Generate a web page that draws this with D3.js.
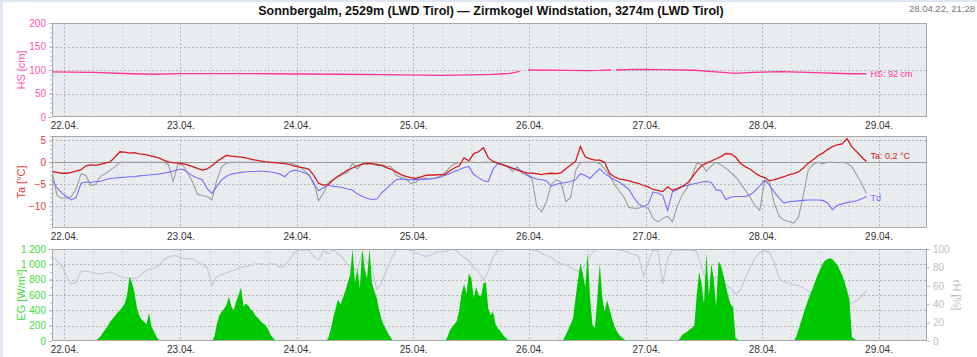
<!DOCTYPE html>
<html><head><meta charset="utf-8">
<script src="https://cdn.jsdelivr.net/npm/d3@7"></script>
<style>
html,body{margin:0;padding:0;background:#fff;}
svg{display:block;font-family:"Liberation Sans",Arial,sans-serif;}
</style></head><body>
<svg id="c" width="977" height="357"></svg>
<script>
// ---------------- DATA ----------------
const title = "Sonnbergalm, 2529m (LWD Tirol) \u2014 Zirmkogel Windstation, 3274m (LWD Tirol)";
const stamp = "28.04.22, 21:28";
const dayTicks = ["2022-04-22","2022-04-23","2022-04-24","2022-04-25","2022-04-26","2022-04-27","2022-04-28","2022-04-29"];
const hsTicks = [0,50,100,150,200];
const taTicks = [-10,-5,0,5];
const egTicks = [0,200,400,600,800,1000,1200];
const egTickLabels = ["0","200","400","600","800","1 000","1 200"];
const rhTicks = [0,20,40,60,80,100];

// hourly series, first value at 21.04. 21:30, step 1 h
const seriesStart = "2022-04-21T21:30";
const ta = [
 -2.1,-2.3,-2.5, -2.5,-2.3,-2.0,-1.7,-0.8,-0.6,-0.7,-0.5,-0.2,0.1,1.2,2.4,2.3,2.1,2.2,1.9,1.8,1.6,1.3,1.0,0.5,0.1,-0.1,-0.2,
 -0.3,-0.6,-1.0,-1.4,-1.8,-1.5,-0.8,0.2,0.9,1.6,1.4,1.3,1.2,1.0,0.7,0.5,0.3,0.1,0.0,-0.1,-0.2,-0.3,-0.5,-0.9,
 -1.1,-1.3,-1.6,-3.0,-4.8,-5.2,-5.1,-4.0,-3.2,-2.5,-1.8,-1.3,-0.8,-0.4,-0.2,-0.3,-0.5,-0.7,-1.2,-1.6,-2.2,-2.8,-3.2,-3.5,
 -3.7,-3.4,-3.0,-2.9,-2.9,-2.8,-2.8,-2.0,-1.3,-0.8,1.0,0.3,2.0,2.4,3.3,1.0,0.2,-0.2,-0.6,-1.0,-1.4,-1.8,-2.2,-2.4,
 -2.5,-2.6,-2.8,-2.6,-2.5,-2.6,-2.4,-1.5,-0.6,0.2,3.6,1.2,0.8,0.5,0.5,0.0,-2.5,-3.3,-3.8,-4.0,-4.2,-4.6,-4.8,-5.3,
 -5.6,-6.2,-6.4,-6.7,-5.6,-6.4,-6.0,-5.5,-4.8,-3.5,-2.0,-0.8,-0.2,0.3,0.8,1.3,2.0,1.9,1.2,-0.2,-1.0,-1.6,-2.4,-3.1,
 -3.5,-4.2,-4.0,-3.6,-3.3,-2.9,-2.6,-2.2,-1.3,-0.2,0.6,1.5,2.1,2.9,3.6,4.0,4.2,5.4,3.5,2.4,1.2,0.2
];
const td = [
 -3.9,-5.8,-7.0, -7.8,-8.6,-8.0,-4.8,-4.5,-4.6,-4.4,-4.4,-4.0,-3.7,-3.6,-3.5,-3.4,-3.3,-3.3,-3.1,-3.0,-2.9,-2.8,-2.7,-2.5,-2.3,-2.0,-1.7,
 -1.6,-2.3,-3.1,-3.6,-4.0,-6.0,-7.1,-5.5,-4.0,-3.2,-2.7,-2.5,-2.3,-2.2,-2.1,-2.1,-2.0,-2.1,-2.2,-2.4,-2.7,-3.3,-2.2,-1.8,
 -2.0,-2.4,-2.8,-5.0,-6.5,-5.8,-5.2,-5.5,-5.6,-5.8,-6.1,-6.4,-7.2,-7.8,-8.2,-8.5,-8.4,-7.0,-6.0,-5.0,-4.0,-3.8,-4.0,-4.0,
 -3.9,-4.0,-3.9,-3.8,-3.7,-3.4,-3.0,-2.6,-2.1,-1.7,-1.2,-1.0,-2.8,-3.5,-4.2,-4.4,-1.5,-0.3,-0.5,-0.9,-1.3,-1.6,-2.0,-2.8,
 -3.4,-3.8,-4.0,-4.2,-5.5,-5.0,-4.8,-4.6,-4.4,-4.0,-2.6,-3.0,-3.7,-2.5,-1.5,-2.6,-3.3,-4.0,-4.5,-5.3,-6.2,-8.0,-9.5,-10.2,
 -9.5,-6.8,-7.0,-7.6,-11.0,-6.7,-6.2,-5.6,-5.3,-5.0,-4.8,-4.5,-4.4,-4.6,-6.3,-6.5,-8.5,-8.0,-7.8,-7.8,-7.8,-7.4,-6.6,-5.4,
 -4.1,-5.2,-6.8,-8.2,-9.3,-9.0,-8.9,-8.8,-8.7,-8.6,-8.6,-8.6,-8.7,-9.3,-10.8,-9.8,-9.5,-9.2,-9.0,-8.8,-8.3,-7.8
];
const tSurf = [
 -1.8,-7.5,-8.2, -8.2,-7.8,-6.0,-2.6,-3.0,-5.3,-5.0,-3.2,-2.6,-1.8,-1.0,0,0,0,0,0,0,0,0,0,0,-0.5,-4.4,-0.3,
 -0.6,-2.5,-4.5,-7.3,-7.6,-7.8,-8.6,-4.0,-1.0,-0.2,0,0,0,0,0,0,0,0,0,0,0,0,0,-0.5,
 -1.0,-1.8,-3.0,-4.5,-8.8,-7.0,-4.6,-4.0,-3.3,-2.8,-2.3,-0.2,-1.5,-0.3,-0.5,-0.4,-0.8,-0.6,-0.9,-1.0,-3.0,-3.4,-3.7,-4.8,
 -4.6,-3.7,-3.6,-3.7,-3.6,-3.2,-2.5,-1.2,-0.3,-0.1,0,0,0,-0.1,0,0,0,-0.2,-0.5,-1.0,-2.1,-1.0,-2.5,-3.0,
 -3.7,-10.1,-11.3,-9.0,-5.0,-4.0,-4.5,-9.0,-8.0,-2.0,0,0,0,0,-0.3,-1.5,-3.0,-5.0,-6.5,-8.0,-10.3,-10.5,-10.5,-10.0,
 -10.5,-12.8,-13.6,-12.8,-12.3,-13.6,-10.0,-7.5,-5.9,-3.3,-0.2,-0.5,-2.0,-0.8,0,-0.6,-1.4,-2.3,-3.3,-4.8,-6.3,-8.0,-9.9,-11.0,
 -4.2,-4.5,-9.4,-12.3,-13.2,-13.5,-13.9,-12.5,-7.5,-1.8,-0.5,0,-0.3,0,0,-0.1,0,-0.2,-1.0,-2.9,-4.8,-7.1
];
const rh = [
 92,87,82, 70,62,64,76,76,75,74,73,74,75,73,70,69,68,68,70,75,78,79,82,88,91,93,92,
 90,89,90,86,83,80,60,70,72,74,76,78,80,81,82,84,84,83,84,84,80,82,88,96,
 99,99,99,92,88,98,95,99,95,90,83,79,77,96,85,80,56,63,77,90,99,100,100,98,
 96,94,92,93,96,97,97,99,100,95,91,87,79,76,66,76,91,99,100,100,100,100,100,100,
 100,98,95,93,91,87,84,83,80,77,75,83,93,99,100,100,100,100,99,98,96,94,92,70,
 85,99,98,62,90,99,99,99,99,99,97,80,64,63,70,67,62,57,51,55,68,80,90,96,
 98,96,85,68,64,63,61,60,58,54,52,52,51,48,46,44,43,41,41,44,48,55
];

// snow depth (irregular times, null = gap)
const hsTimes = ["2022-04-21T21:30","2022-04-22T06:00","2022-04-22T14:00","2022-04-22T19:00","2022-04-23T00:00",
 "2022-04-23T12:00","2022-04-23T18:00","2022-04-24T00:00","2022-04-24T08:00","2022-04-24T18:00","2022-04-25T06:00",
 "2022-04-25T12:00","2022-04-25T16:00","2022-04-25T18:00","2022-04-25T20:00","2022-04-25T22:00","2022-04-25T23:00",
 "2022-04-25T23:40","2022-04-26T08:00","2022-04-26T12:00","2022-04-26T14:30","2022-04-26T16:50","2022-04-26T17:20",
 "2022-04-26T17:50","2022-04-26T22:00","2022-04-27T04:00","2022-04-27T10:00","2022-04-27T14:30","2022-04-27T18:30",
 "2022-04-27T22:00","2022-04-28T04:00","2022-04-28T11:00","2022-04-28T18:00","2022-04-28T21:30"];
const hsValues = [96,95,92,91,92.5,92.5,92,91.5,91,90,88.7,89.5,90.5,91.5,93,97,null,100,99,98.8,99,100,null,100,101.4,
 101,99.5,96,93,95,96.4,94.3,92,92];

// global radiation, per day, 06:00 .. 21:00 every 30 min
const egDays = ["2022-04-22","2022-04-23","2022-04-24","2022-04-25","2022-04-26","2022-04-27","2022-04-28"];
const eg22 = [0,0,30,60,110,150,200,250,290,330,370,400,440,490,600,840,760,640,440,330,280,250,220,370,190,130,60,20,0,0,0];
const eg23 = [0,0,60,220,330,380,420,470,580,450,400,520,600,700,450,490,460,410,380,330,300,260,230,210,160,90,45,15,0,0,0];
const eg24 = [0,40,150,300,420,540,480,560,650,760,860,1200,760,950,680,1200,950,820,1200,760,650,560,400,280,200,140,80,30,0,0,0];
const eg25 = [0,0,40,130,180,220,260,400,620,740,620,880,820,560,700,600,580,750,770,420,340,380,220,160,130,80,45,15,0,0,0];
const eg26 = [0,0,20,80,150,220,300,560,800,1010,880,700,1150,560,210,170,560,1010,580,380,530,420,300,200,130,80,50,25,0,0,0];
const eg27 = [0,0,30,80,100,120,150,170,200,600,900,750,480,1150,580,1010,820,450,1040,980,860,720,580,480,440,40,20,5,0,0,0];
const eg28 = [0,0,50,150,250,350,450,540,620,700,790,870,940,1010,1050,1070,1078,1065,1030,990,930,860,770,660,540,50,30,10,0,0,0];
const egValues = [eg22,eg23,eg24,eg25,eg26,eg27,eg28];

const hsLabel = "HS: 92 cm", taLabel = "Ta: 0,2 \u00b0C", tdLabel = "Td";

// ---------------- LAYOUT / STYLE ----------------
const C = {hs:"#ff3399", ta:"#d21b1b", td:"#7272ff", to:"#9c9c9c", eg:"#00c800", rh:"#c6c6d6"};
const parse = d3.utcParse("%Y-%m-%dT%H:%M");
const parseDay = d3.utcParse("%Y-%m-%d");
const svg = d3.select("#c");
const X0 = 52, X1 = 927;
const x = d3.scaleUtc().domain([parse("2022-04-21T21:30"), parse("2022-04-29T10:00")]).range([X0, X1]);
const P = {hs:{top:23,bottom:117}, ta:{top:136,bottom:228}, eg:{top:249,bottom:341}};
const yHS = d3.scaleLinear().domain([0,200]).range([P.hs.bottom,P.hs.top]);
const yTA = d3.scaleLinear().domain([-15,6]).range([P.ta.bottom,P.ta.top]);
const yEG = d3.scaleLinear().domain([0,1200]).range([P.eg.bottom,P.eg.top]);
const yRH = d3.scaleLinear().domain([0,100]).range([P.eg.bottom,P.eg.top]);

// outer frame
svg.append("rect").attr("x",0).attr("y",0).attr("width",977).attr("height",357).attr("fill","#fff");
svg.append("rect").attr("x",0).attr("y",0).attr("width",977).attr("height",2).attr("fill","#dfe8f2");
svg.append("rect").attr("x",0).attr("y",0).attr("width",3).attr("height",357).attr("fill","#dfe8f2");

// title
svg.append("text").attr("x",491).attr("y",15).attr("text-anchor","middle")
  .attr("font-size","12.5px").attr("font-weight","bold").attr("fill","#111").text(title);
svg.append("text").attr("x",975).attr("y",12).attr("text-anchor","end")
  .attr("font-size","9.5px").attr("fill","#777").text(stamp);

const hours6 = d3.utcHour.every(6).range(x.domain()[0], x.domain()[1]);
const dayDates = dayTicks.map(parseDay);

function panel(key, y, ticks, gridTicks, minorStep, labelColor, labelFmt, name, nameY){
  const p = P[key];
  const g = svg.append("g");
  g.append("rect").attr("x",X0).attr("y",p.top).attr("width",X1-X0).attr("height",p.bottom-p.top).attr("fill","#e8ecef");
  g.selectAll(null).data(hours6).join("line")
    .attr("x1",d=>Math.round(x(d))+0.5).attr("x2",d=>Math.round(x(d))+0.5)
    .attr("y1",p.top).attr("y2",p.bottom)
    .attr("stroke",d=>d.getUTCHours()===0?"#b4b4b4":"#d2d6d9")
    .attr("stroke-dasharray","2,2");
  g.selectAll(null).data(gridTicks).join("line")
    .attr("x1",X0).attr("x2",X1)
    .attr("y1",d=>Math.round(y(d))+0.5).attr("y2",d=>Math.round(y(d))+0.5)
    .attr("stroke","#b8b8b8").attr("stroke-dasharray","2,2");
  const ax = svg.append("g").attr("transform",`translate(${X0},0)`)
    .call(d3.axisLeft(y).tickValues(ticks).tickSize(3).tickPadding(3).tickFormat(labelFmt));
  ax.select(".domain").remove();
  ax.selectAll("line").attr("stroke","#aaa");
  ax.selectAll("text").attr("fill",labelColor).attr("font-size","10px").attr("font-family",null);
  const d0 = y.domain();
  const minor = d3.range(Math.ceil(Math.min(...d0)/minorStep)*minorStep, Math.max(...d0)+1e-9, minorStep);
  svg.append("g").attr("transform",`translate(${X0},0)`)
    .call(d3.axisLeft(y).tickValues(minor).tickSize(2).tickFormat(""))
    .call(a=>a.select(".domain").remove())
    .selectAll("line").attr("stroke","#bbb");
  const xa = svg.append("g").attr("transform",`translate(0,${p.bottom})`)
    .call(d3.axisBottom(x).tickValues(dayDates).tickSize(0).tickPadding(5).tickFormat(d3.utcFormat("%d.%m.")));
  xa.select(".domain").remove();
  xa.selectAll("text").attr("fill","#333").attr("font-size","10px").attr("font-family",null);
  svg.append("text").attr("transform",`translate(25,${nameY}) rotate(-90)`).attr("text-anchor","middle")
    .attr("font-size","11px").attr("fill",labelColor).text(name);
  svg.append("clipPath").attr("id","clip-"+key).append("rect")
    .attr("x",X0).attr("y",p.top).attr("width",X1-X0).attr("height",p.bottom-p.top);
  return g;
}
function border(key){
  const p = P[key];
  svg.append("rect").attr("x",X0+0.5).attr("y",p.top+0.5).attr("width",X1-X0-1).attr("height",p.bottom-p.top-1)
    .attr("fill","none").attr("stroke","#a9a9a9");
}

const seriesT0 = parse(seriesStart).getTime();
const hourly = arr => arr.map((v,i)=>({t:new Date(seriesT0 + i*3600e3), v}));

// ---- panel 1: HS ----
panel("hs", yHS, hsTicks, [50,100,150], 10, "#ff55aa", d3.format("d"), "HS [cm]", 70);
const hsData = hsTimes.map((s,i)=>({t:parse(s), v:hsValues[i]}));
svg.append("path").datum(hsData).attr("clip-path","url(#clip-hs)")
  .attr("fill","none").attr("stroke",C.hs).attr("stroke-width",1.3)
  .attr("d", d3.line().defined(d=>d.v!=null).x(d=>x(d.t)).y(d=>yHS(d.v)));
border("hs");
const hsLast = hsData[hsData.length-1];
svg.append("text").attr("x",x(hsLast.t)+4).attr("y",yHS(hsLast.v)+3).attr("font-size","9px")
  .attr("fill",C.hs).text(hsLabel);

// ---- panel 2: temperatures ----
panel("ta", yTA, taTicks, [-10,-5,5], 1, "#e23a3a", d3.format("d"), "Ta [\u00b0C]", 182);
svg.append("line").attr("x1",X0).attr("x2",X1).attr("y1",Math.round(yTA(0))+0.5).attr("y2",Math.round(yTA(0))+0.5)
  .attr("stroke","#9a9a9a");
const lineT = d3.line().x(d=>x(d.t)).y(d=>yTA(d.v));
const toData = hourly(tSurf), tdData = hourly(td), taData = hourly(ta);
svg.append("path").datum(toData).attr("clip-path","url(#clip-ta)").attr("fill","none")
  .attr("stroke",C.to).attr("stroke-width",1.1).attr("d",lineT);
svg.append("path").datum(tdData).attr("clip-path","url(#clip-ta)").attr("fill","none")
  .attr("stroke",C.td).attr("stroke-width",1.1).attr("d",lineT);
svg.append("path").datum(taData).attr("clip-path","url(#clip-ta)").attr("fill","none")
  .attr("stroke",C.ta).attr("stroke-width",1.3).attr("d",lineT);
border("ta");
const taLast = taData[taData.length-1], tdLast = tdData[tdData.length-1];
svg.append("text").attr("x",x(taLast.t)+4).attr("y",yTA(taLast.v)-2).attr("font-size","9px")
  .attr("fill",C.ta).text(taLabel);
svg.append("text").attr("x",x(tdLast.t)+4).attr("y",yTA(tdLast.v)+5).attr("font-size","9px")
  .attr("fill",C.td).text(tdLabel);

// ---- panel 3: radiation + rH ----
panel("eg", yEG, egTicks, [200,400,600,800,1000], 100, "#3ddc3d", (d,i)=>egTickLabels[egTicks.indexOf(d)], "EG [W/m\u00b2]", 295);
const egData = [{t:parse(seriesStart), v:0}];
egDays.forEach((day,k)=>{
  const t0 = parseDay(day).getTime() + 6*3600e3;
  egValues[k].forEach((v,j)=>egData.push({t:new Date(t0 + j*1800e3), v}));
});
egData.push({t:parse("2022-04-28T21:30"), v:0});
const rhData = hourly(rh);
svg.append("path").datum(rhData).attr("clip-path","url(#clip-eg)").attr("fill","none")
  .attr("stroke",C.rh).attr("stroke-width",1.1)
  .attr("d", d3.line().x(d=>x(d.t)).y(d=>yRH(d.v)));
svg.append("path").datum(egData).attr("clip-path","url(#clip-eg)").attr("fill",C.eg)
  .attr("d", d3.area().x(d=>x(d.t)).y0(yEG(0)).y1(d=>yEG(d.v)));
border("eg");
const ra = svg.append("g").attr("transform",`translate(${X1},0)`)
  .call(d3.axisRight(yRH).tickValues(rhTicks).tickSize(3).tickPadding(3));
ra.select(".domain").remove();
ra.selectAll("line").attr("stroke","#bbb");
ra.selectAll("text").attr("fill","#bdbdbd").attr("font-size","10px").attr("font-family",null);
svg.append("text").attr("transform",`translate(953,295) rotate(90)`).attr("text-anchor","middle")
  .attr("font-size","11px").attr("fill","#bdbdbd").text("rH [%]");
</script>
</body></html>
